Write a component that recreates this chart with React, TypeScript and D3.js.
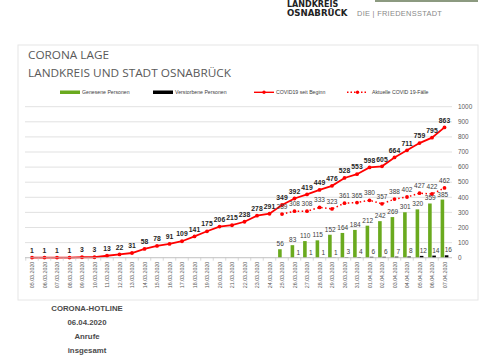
import React from "react";
import * as d3 from "d3";

const dates = ["05.03.2020","06.03.2020","07.03.2020","08.03.2020","09.03.2020","10.03.2020","11.03.2020","12.03.2020","13.03.2020","14.03.2020","15.03.2020","16.03.2020","17.03.2020","18.03.2020","19.03.2020","20.03.2020","21.03.2020","22.03.2020","23.03.2020","24.03.2020","25.03.2020","26.03.2020","27.03.2020","28.03.2020","29.03.2020","30.03.2020","31.03.2020","01.04.2020","02.04.2020","03.04.2020","04.04.2020","05.04.2020","06.04.2020","07.04.2020"];
const totalCases = [1,1,1,1,3,3,13,22,31,58,78,91,109,141,175,206,215,238,278,291,349,392,419,449,476,528,553,598,605,664,711,759,795,863];
const activeCases: (number | null)[] = [null,null,null,null,null,null,null,null,null,null,null,null,null,null,null,null,null,null,null,null,289,308,308,333,323,361,365,380,357,388,402,427,422,462];
const recovered: (number | null)[] = [null,null,null,null,null,null,null,null,null,null,null,null,null,null,null,null,null,null,null,null,56,83,110,115,152,164,184,212,242,269,301,320,359,385];
const deaths: (number | null)[] = [null,null,null,null,null,null,null,null,null,null,null,null,null,null,null,null,null,null,null,null,null,1,1,1,1,3,4,6,6,7,8,12,14,16];
const yTicks = [0,100,200,300,400,500,600,700,800,900,1000];

export default function App() {
  const x = d3.scaleBand<string>().domain(dates).range([25.75, 450.75]);
  const y = d3.scaleLinear().domain([0, 1000]).range([257.7, 106.7]);
  const cx = (d: string) => (x(d) as number) + x.bandwidth() / 2;
  const lineGen = d3.line<[string, number | null]>()
    .defined((d) => d[1] != null)
    .x((d) => cx(d[0]))
    .y((d) => y(d[1] as number));
  const totalPath = lineGen(dates.map((d, i) => [d, totalCases[i]]));
  const activePath = lineGen(dates.map((d, i) => [d, activeCases[i]]));
  const bw = 3.6;
  const labelFont = "'Liberation Sans', Arial, sans-serif";
  const red = "#ff0000";

  return (
    <svg width={480} height={360} style={{ position: "absolute", left: 0, top: 0, background: "#fff" }}>
      <rect x={0} y={0} width={480} height={360} fill="#fff" />
      {/* header logo */}
      <line x1={375} y1={1} x2={478} y2={1} stroke="#8c9a80" strokeWidth={2} />
      <text x={287} y={7} fontFamily="'DejaVu Sans', sans-serif" fontWeight="bold" fontSize={8} fill="#222">LANDKREIS</text>
      <text x={287} y={16} fontFamily="'DejaVu Sans', sans-serif" fontWeight="bold" fontSize={8.6} fill="#222">OSNABRÜCK</text>
      <text x={357} y={16} fontFamily="'Liberation Sans', Arial, sans-serif" fontSize={7.4} fill="#888" letterSpacing={0.3}>DIE | FRIEDENSSTADT</text>

      {/* chart frame */}
      <rect x={18} y={45} width={460} height={255} fill="#fff" stroke="#e6e6e6" strokeWidth={1} />

      {/* title */}
      <text x={28} y={59} fontFamily="'Open Sans', sans-serif" fontSize={10} fill="#595959" textLength={81} lengthAdjust="spacingAndGlyphs">CORONA LAGE</text>
      <text x={28} y={76.5} fontFamily="'Open Sans', sans-serif" fontSize={10} fill="#595959" textLength={203} lengthAdjust="spacingAndGlyphs">LANDKREIS UND STADT OSNABRÜCK</text>

      {/* legend */}
      <g fontFamily={labelFont} fontSize={5.2} fill="#404040">
        <rect x={60} y={90.5} width={20} height={3.5} fill="#6aaa1e" />
        <text x={82} y={94}>Genesene Personen</text>
        <rect x={153} y={90.5} width={20} height={3.5} fill="#000" />
        <text x={175} y={94}>Verstorbene Personen</text>
        <line x1={254} y1={92.3} x2={274} y2={92.3} stroke={red} strokeWidth={1.4} />
        <circle cx={264} cy={92.3} r={1.7} fill={red} />
        <text x={276} y={94}>COVID19 seit Beginn</text>
        <line x1={347} y1={92.3} x2={368} y2={92.3} stroke={red} strokeWidth={1.4} strokeDasharray="1.5,2" />
        <circle cx={357.5} cy={92.3} r={1.7} fill={red} />
        <text x={372} y={94}>Aktuelle COVID 19-Fälle</text>
      </g>

      {/* gridlines */}
      {yTicks.map((t) => (
        <line key={t} x1={25} x2={452} y1={y(t)} y2={y(t)} stroke="#d9d9d9" strokeWidth={0.8} />
      ))}
      {/* right axis labels */}
      {yTicks.map((t) => (
        <text key={"l" + t} x={458} y={y(t) + 2.2} fontFamily={labelFont} fontSize={6.4} fill="#595959">{t}</text>
      ))}

      {/* bars */}
      {dates.map((d, i) => (
        <g key={"b" + d}>
          {recovered[i] != null && (
            <rect x={cx(d) - bw - 0.3} y={y(recovered[i] as number)} width={bw} height={y(0) - y(recovered[i] as number)} fill="#6aaa1e" />
          )}
          {deaths[i] != null && (
            <rect x={cx(d) + 0.3} y={y(deaths[i] as number)} width={bw} height={y(0) - y(deaths[i] as number)} fill="#000" />
          )}
        </g>
      ))}

      {/* lines */}
      <path d={totalPath || ""} fill="none" stroke={red} strokeWidth={1.8} />
      <path d={activePath || ""} fill="none" stroke={red} strokeWidth={1.5} strokeDasharray="1.5,2.5" />
      {dates.map((d, i) => (
        <circle key={"p" + d} cx={cx(d)} cy={y(totalCases[i])} r={1.9} fill={red} />
      ))}
      {dates.map((d, i) => activeCases[i] != null && (
        <circle key={"a" + d} cx={cx(d)} cy={y(activeCases[i] as number)} r={1.9} fill={red} />
      ))}

      {/* data labels */}
      <g fontFamily={labelFont} fontSize={6.8} fill="#262626" fontWeight="bold" textAnchor="middle">
        {dates.map((d, i) => (
          <text key={"tl" + d} x={cx(d)} y={y(totalCases[i]) - 4.8}>{totalCases[i]}</text>
        ))}
      </g>
      <g fontFamily={labelFont} fontSize={6.5} fill="#404040" textAnchor="middle">
        {dates.map((d, i) => activeCases[i] != null && (
          <text key={"al" + d} x={cx(d)} y={y(activeCases[i] as number) - 5}>{activeCases[i]}</text>
        ))}
        {dates.map((d, i) => recovered[i] != null && (
          <text key={"rl" + d} x={cx(d) - bw / 2} y={y(recovered[i] as number) - 3}>{recovered[i]}</text>
        ))}
        {dates.map((d, i) => deaths[i] != null && (
          <text key={"dl" + d} x={cx(d) + bw / 2 + 2} y={y(deaths[i] as number) - 3}>{deaths[i]}</text>
        ))}
      </g>

      {/* x axis */}
      <line x1={25} x2={452} y1={y(0)} y2={y(0)} stroke="#bfbfbf" strokeWidth={0.8} />
      {dates.map((d) => (
        <line key={"t" + d} x1={(x(d) as number)} x2={(x(d) as number)} y1={y(0)} y2={y(0) + 3} stroke="#bfbfbf" strokeWidth={0.6} />
      ))}
      <g fontFamily={labelFont} fontSize={5.3} fill="#595959">
        {dates.map((d) => (
          <text key={"x" + d} transform={`translate(${cx(d) + 2},${y(0) + 4}) rotate(-90)`} textAnchor="end">{d}</text>
        ))}
      </g>

      {/* hotline */}
      <g fontFamily="'Liberation Sans', Arial, sans-serif" fontWeight="bold" fontSize={7.8} fill="#4a4a4a" textAnchor="middle">
        <text x={87} y={311}>CORONA-HOTLINE</text>
        <text x={87} y={325}>06.04.2020</text>
        <text x={87} y={339}>Anrufe</text>
        <text x={87} y={353}>insgesamt</text>
      </g>
    </svg>
  );
}
